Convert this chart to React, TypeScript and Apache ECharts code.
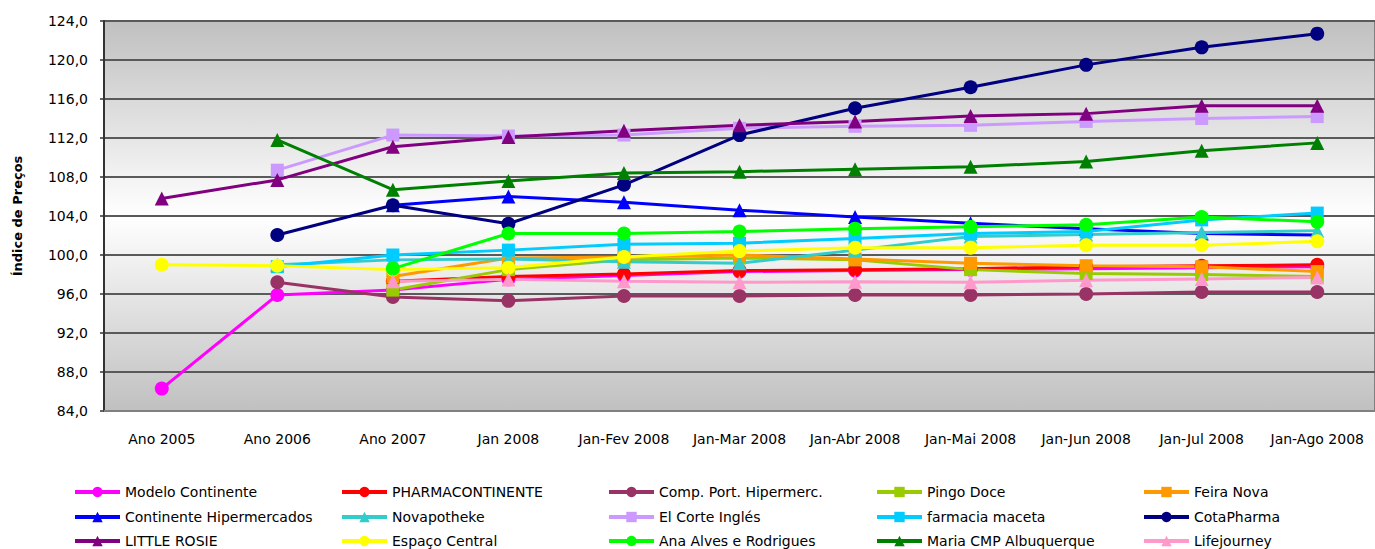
import React, { useEffect, useRef } from "react";
import * as echarts from "echarts";

const categories = [
  "Ano 2005", "Ano 2006", "Ano 2007", "Jan 2008", "Jan-Fev 2008", "Jan-Mar 2008",
  "Jan-Abr 2008", "Jan-Mai 2008", "Jan-Jun 2008", "Jan-Jul 2008", "Jan-Ago 2008",
];

const modeloContinente = [86.3, 95.9, 96.4, 97.5, 97.9, 98.3, 98.4, 98.5, 98.6, 98.7, 98.8];
const pharmacontinente = [null, null, 97.3, 97.8, 98.05, 98.4, 98.5, 98.6, 98.8, 98.9, 99.0];
const compPort = [null, 97.2, 95.7, 95.3, 95.8, 95.8, 95.9, 95.9, 96.0, 96.2, 96.2];
const pingoDoce = [null, null, 96.4, 98.5, 99.5, 99.7, 99.5, 98.5, 98.1, 98.0, 97.8];
const feiraNova = [null, null, 97.8, 99.7, 99.8, 100.0, 99.6, 99.15, 98.9, 98.8, 98.3];
const continenteHiper = [null, null, 105.1, 106.0, 105.4, 104.6, 103.9, 103.25, 102.7, 102.2, 102.05];
const novapotheke = [null, 99.0, 99.5, 99.6, 99.3, 99.15, 100.5, 101.9, 102.1, 102.3, 102.5];
const elCorteIngles = [null, 108.7, 112.3, 112.2, 112.3, 113.0, 113.2, 113.3, 113.7, 114.0, 114.2];
const farmaciaMaceta = [null, 98.8, 100.0, 100.5, 101.1, 101.2, 101.7, 102.2, 102.4, 103.6, 104.3];
const cotaPharma = [null, 102.05, 105.1, 103.2, 107.2, 112.3, 115.05, 117.2, 119.5, 121.3, 122.7];
const littleRosie = [105.8, 107.7, 111.1, 112.1, 112.75, 113.3, 113.7, 114.25, 114.5, 115.3, 115.3];
const espacoCentral = [99.0, 98.9, 98.5, 98.7, 99.8, 100.4, 100.75, 100.75, 101.0, 101.0, 101.4];
const anaAlves = [null, null, 98.6, 102.2, 102.2, 102.4, 102.7, 102.9, 103.1, 103.9, 103.4];
const mariaCMP = [null, 111.8, 106.7, 107.6, 108.4, 108.55, 108.8, 109.05, 109.6, 110.7, 111.5];
const lifejourney = [null, null, 97.3, 97.5, 97.3, 97.2, 97.25, 97.2, 97.4, 97.55, 97.7];

const seriesDefs = [
  { name: "Modelo Continente", data: modeloContinente, color: "#FF00FF", symbol: "circle" },
  { name: "PHARMACONTINENTE", data: pharmacontinente, color: "#FF0000", symbol: "circle" },
  { name: "Comp. Port. Hipermerc.", data: compPort, color: "#993366", symbol: "circle" },
  { name: "Pingo Doce", data: pingoDoce, color: "#99CC00", symbol: "rect" },
  { name: "Feira Nova", data: feiraNova, color: "#FF9900", symbol: "rect" },
  { name: "Continente Hipermercados", data: continenteHiper, color: "#0000FF", symbol: "triangle" },
  { name: "Novapotheke", data: novapotheke, color: "#33CCCC", symbol: "triangle" },
  { name: "El Corte Inglés", data: elCorteIngles, color: "#CC99FF", symbol: "rect" },
  { name: "farmacia maceta", data: farmaciaMaceta, color: "#00CCFF", symbol: "rect" },
  { name: "CotaPharma", data: cotaPharma, color: "#000080", symbol: "circle" },
  { name: "LITTLE ROSIE", data: littleRosie, color: "#800080", symbol: "triangle" },
  { name: "Espaço Central", data: espacoCentral, color: "#FFFF00", symbol: "circle" },
  { name: "Ana Alves e Rodrigues", data: anaAlves, color: "#00FF00", symbol: "circle" },
  { name: "Maria CMP Albuquerque", data: mariaCMP, color: "#008000", symbol: "triangle" },
  { name: "Lifejourney", data: lifejourney, color: "#FF99CC", symbol: "triangle" },
];

const FONT = "DejaVu Sans";

export default function App() {
  const ref = useRef<HTMLDivElement>(null);
  useEffect(() => {
    if (!ref.current) return;
    const chart = echarts.init(ref.current, null, { renderer: "svg" });
    const rowTops = [485, 510, 534];
    const colLefts = [73, 340, 607, 875, 1142];
    const legends = seriesDefs.map((s, i) => ({
      orient: "horizontal",
      left: colLefts[i % 5],
      top: rowTops[Math.floor(i / 5)],
      itemWidth: 45,
      itemHeight: 13,
      padding: 0,
      lineStyle: { width: 4 },
      textStyle: { fontFamily: FONT, fontSize: 14, color: "#000" },
      data: [s.name],
    }));
    chart.setOption({
      animation: false,
      legend: legends,
      grid: {
        left: 104,
        top: 21,
        right: -3,
        bottom: 138,
        show: true,
        borderColor: "#808080",
        borderWidth: 2,
        backgroundColor: new echarts.graphic.LinearGradient(0, 0, 0, 1, [
          { offset: 0, color: "#c0c0c0" },
          { offset: 0.5, color: "#ffffff" },
          { offset: 1, color: "#c0c0c0" },
        ]),
      },
      xAxis: {
        type: "category",
        data: categories,
        boundaryGap: true,
        axisLine: { show: true, lineStyle: { color: "#808080", width: 2 } },
        axisTick: { show: false },
        axisLabel: { fontFamily: FONT, fontSize: 14, color: "#000", margin: 21, interval: 0 },
      },
      yAxis: {
        type: "value",
        min: 84,
        max: 124,
        interval: 4,
        name: "Índice de Preços",
        nameLocation: "middle",
        nameGap: 80,
        nameTextStyle: { fontFamily: FONT, fontSize: 13, fontWeight: "bold", color: "#000" },
        axisLine: { show: true, lineStyle: { color: "#333", width: 2 } },
        axisTick: { show: true, length: 4, lineStyle: { color: "#333", width: 1.5 } },
        axisLabel: {
          fontFamily: FONT,
          fontSize: 14,
          color: "#000",
          margin: 16,
          formatter: (v: number) => v.toFixed(1).replace(".", ","),
        },
        splitLine: { show: true, lineStyle: { color: "#5a5a5a", width: 2 } },
      },
      series: seriesDefs.map((s) => ({
        name: s.name,
        type: "line",
        data: s.data,
        symbol: s.symbol,
        symbolSize: s.symbol === "rect" ? 13 : 14,
        showSymbol: true,
        itemStyle: { color: s.color },
        lineStyle: { color: s.color, width: 3 },
        emphasis: { disabled: true },
      })),
    });
    return () => chart.dispose();
  }, []);
  return (
    <div
      ref={ref}
      style={{ position: "absolute", left: 0, top: 0, width: 1375, height: 549, background: "#fff" }}
    />
  );
}
